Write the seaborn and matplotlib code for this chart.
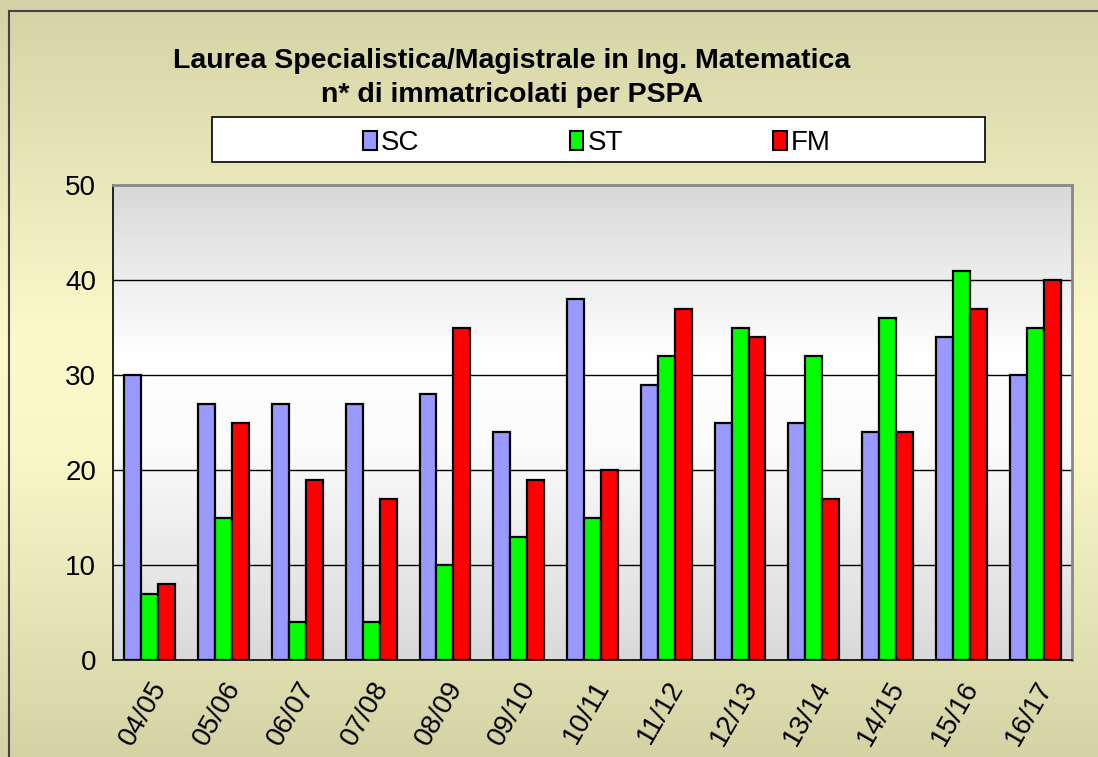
import numpy as np
import pandas as pd
import matplotlib
matplotlib.use("Agg")
import matplotlib.pyplot as plt
import seaborn as sns
from matplotlib.colors import LinearSegmentedColormap
from matplotlib.patches import Rectangle

categories = ["04/05", "05/06", "06/07", "07/08", "08/09", "09/10", "10/11",
              "11/12", "12/13", "13/14", "14/15", "15/16", "16/17"]
sc = [30, 27, 27, 27, 28, 24, 38, 29, 25, 25, 24, 34, 30]
st = [7, 15, 4, 4, 10, 13, 15, 32, 35, 32, 36, 41, 35]
fm = [8, 25, 19, 17, 35, 19, 20, 37, 34, 17, 24, 37, 40]
series = ["SC", "ST", "FM"]
colors = ["#9999ff", "#00ff00", "#ff0000"]
yticks = [0, 10, 20, 30, 40, 50]

df = pd.DataFrame({"Anno": categories * 3,
                   "Serie": ["SC"] * 13 + ["ST"] * 13 + ["FM"] * 13,
                   "Valore": sc + st + fm})

sns.set_theme(style="white")
plt.rcParams['font.family'] = ['Liberation Sans', 'DejaVu Sans']
plt.rcParams['text.color'] = 'black'
plt.rcParams['xtick.color'] = 'black'
plt.rcParams['ytick.color'] = 'black'
plt.rcParams['xtick.labelcolor'] = 'black'
plt.rcParams['ytick.labelcolor'] = 'black'

fig = plt.figure(figsize=(10.98, 7.57), dpi=100)

# figure background gradient
bg = fig.add_axes([0, 0, 1, 1], zorder=-10)
bg_cmap = LinearSegmentedColormap.from_list(
    "bg", [(0.0, "#d4d3a6"), (0.45, "#fcfacb"), (0.6, "#f9f7c8"), (1.0, "#d4d3a6")])
grad = np.linspace(0, 1, 256).reshape(-1, 1)
bg.imshow(grad, aspect="auto", cmap=bg_cmap, extent=[0, 1, 0, 1], origin="upper")
bg.set_axis_off()
fig.patches.append(Rectangle((9 / 1098, -0.1), 1.2, 1 - 11 / 757 + 0.1,
                             transform=fig.transFigure, fill=False,
                             edgecolor="#444444", linewidth=1.5, zorder=5))

# legend frame box (below the axes so the legend draws over it)
fig.patches.append(Rectangle((212 / 1098, 1 - 162 / 757), 773 / 1098, 45 / 757,
                             transform=fig.transFigure, facecolor="white",
                             edgecolor="black", linewidth=1.2, zorder=-5))

ax = fig.add_axes([113 / 1098, 1 - 660 / 757, (1072 - 113) / 1098, (660 - 185) / 757])

# plot area gradient
pa_cmap = LinearSegmentedColormap.from_list(
    "pa", [(0.0, "#d8d8d8"), (0.36, "#ffffff"), (0.55, "#fbfbfb"), (1.0, "#d9d9d9")])
ax.imshow(grad, aspect="auto", cmap=pa_cmap, extent=[-0.5, 12.5, 0, 50],
          origin="upper", zorder=0)

sns.barplot(data=df, x="Anno", y="Valore", hue="Serie", hue_order=series,
            palette=colors, width=0.69, edgecolor="black", linewidth=1.6,
            saturation=1, ax=ax, zorder=3, legend=True, dodge=True)

ax.set_xlim(-0.5, 12.5)
ax.set_ylim(0, 50)
ax.set_yticks(yticks)
ax.set_yticklabels([str(v) for v in yticks], fontsize=20)
for v in yticks[1:-1]:
    ax.axhline(v, color="black", linewidth=1.0, zorder=1)

ax.set_xticks(np.arange(13))
ax.set_xticklabels(categories, rotation=60, ha="right", rotation_mode="anchor",
                   fontsize=20)
ax.tick_params(axis="x", length=0, pad=12)
ax.set_xticks(np.arange(-0.5, 13, 1), minor=True)
ax.tick_params(axis="x", which="minor", length=8, width=1.2, color="black", direction="out")
ax.tick_params(axis="y", length=6, width=1.2, color="black", direction="out", pad=6)
ax.set_xlabel("")
ax.set_ylabel("")

for side in ["top", "right"]:
    ax.spines[side].set_color("#888888")
    ax.spines[side].set_linewidth(2)
for side in ["left", "bottom"]:
    ax.spines[side].set_color("black")
    ax.spines[side].set_linewidth(1.2)
ax.set_facecolor("none")

leg = ax.legend(loc="center", bbox_to_anchor=(597 / 1098, 1 - 143 / 757),
                bbox_transform=fig.transFigure, ncol=3, fontsize=20,
                frameon=False, handlelength=0.5, handleheight=0.65,
                handletextpad=0.15, columnspacing=5.4, borderpad=0.2)
for h in leg.legend_handles:
    h.set_edgecolor("black")
    h.set_linewidth(1.5)
for t in leg.get_texts():
    t.set_color("black")
leg.set_zorder(10)

fig.text(512 / 1098, 1 - 61 / 757, "Laurea Specialistica/Magistrale in Ing. Matematica",
         ha="center", va="center", fontsize=20.5, fontweight="bold")
fig.text(512 / 1098, 1 - 95 / 757, "n* di immatricolati per PSPA",
         ha="center", va="center", fontsize=20.5, fontweight="bold")

fig.savefig("out.png", dpi=100)
